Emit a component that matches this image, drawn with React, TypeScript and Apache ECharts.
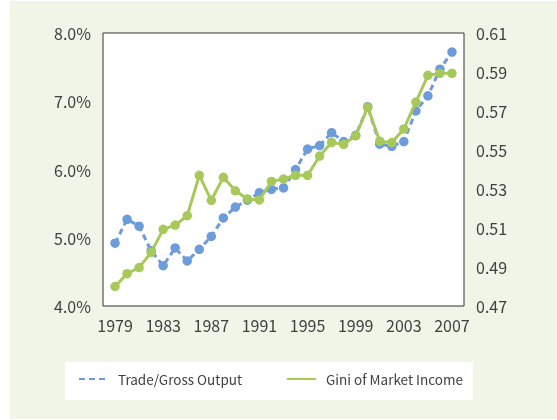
import React, { useEffect, useRef } from "react";
import * as echarts from "echarts";

const years = [
  1979, 1980, 1981, 1982, 1983, 1984, 1985, 1986, 1987, 1988, 1989, 1990, 1991, 1992, 1993,
  1994, 1995, 1996, 1997, 1998, 1999, 2000, 2001, 2002, 2003, 2004, 2005, 2006, 2007,
];
const tradeShare = [
  4.92, 5.27, 5.17, 4.81, 4.59, 4.85, 4.66, 4.83, 5.02, 5.29, 5.45, 5.55, 5.66, 5.71, 5.73,
  6.0, 6.3, 6.35, 6.54, 6.41, 6.5, 6.92, 6.37, 6.34, 6.41, 6.86, 7.08, 7.47, 7.72,
];
const gini = [
  0.48, 0.4866, 0.4897, 0.4975, 0.5093, 0.5115, 0.5163, 0.537, 0.5242, 0.536, 0.5291, 0.5249,
  0.5244, 0.5339, 0.5351, 0.537, 0.537, 0.5469, 0.5539, 0.5529, 0.5573, 0.5719, 0.5545, 0.5538,
  0.5608, 0.5746, 0.5883, 0.5893, 0.5893,
];
const xLabels = [1979, 1983, 1987, 1991, 1995, 1999, 2003, 2007];
const rightLabels = [0.47, 0.49, 0.51, 0.53, 0.55, 0.57, 0.59, 0.61];
const seriesNames = ["Trade/Gross Output", "Gini of Market Income"];

const FONT = "'Noto Sans CJK KR', 'Noto Sans', sans-serif";
const TEXT = "#404040";
const BLUE = "#6c9cd9";
const GREEN = "#a7c95a";

export default function App() {
  const ref = useRef<HTMLDivElement>(null);
  useEffect(() => {
    if (!ref.current) return;
    const chart = echarts.init(ref.current, undefined, { renderer: "svg" });
    chart.setOption({
      animation: false,
      textStyle: { fontFamily: FONT },
      graphic: [
        {
          type: "rect",
          z: -10,
          silent: true,
          shape: { x: 10, y: 1, width: 547, height: 418 },
          style: { fill: "#f1f5e8" },
        },
        {
          type: "rect",
          z: -9,
          silent: true,
          shape: { x: 65, y: 362, width: 408, height: 38 },
          style: { fill: "#ffffff" },
        },
      ],
      grid: {
        left: 103,
        right: 93,
        top: 33,
        bottom: 114,
        show: true,
        backgroundColor: "#ffffff",
        borderColor: "#333333",
        borderWidth: 1,
        containLabel: false,
      },
      legend: {
        left: 78,
        top: 371,
        itemWidth: 29,
        itemHeight: 20,
        itemGap: 44,
        padding: 0,
        textStyle: { fontFamily: FONT, fontSize: 13.5, color: TEXT, padding: [0, 0, 0, 5] },
        itemStyle: { opacity: 0 },
        data: seriesNames,
      },
      xAxis: {
        type: "value",
        min: 1978,
        max: 2008,
        axisLine: { show: false },
        axisTick: { show: false },
        splitLine: { show: false },
        axisLabel: {
          customValues: xLabels,
          color: TEXT,
          fontSize: 16,
          fontFamily: FONT,
          margin: 11,
          formatter: (v: number) => String(v),
        },
      },
      yAxis: [
        {
          type: "value",
          min: 4,
          max: 8,
          interval: 1,
          axisLine: { show: false },
          axisTick: { show: false },
          splitLine: { show: false },
          axisLabel: {
            color: TEXT,
            fontSize: 16,
            fontFamily: FONT,
            margin: 12,
            formatter: (v: number) => v.toFixed(1) + "%",
          },
        },
        {
          type: "value",
          min: 0.47,
          max: 0.61,
          position: "right",
          axisLine: { show: false },
          axisTick: { show: false },
          splitLine: { show: false },
          axisLabel: {
            customValues: rightLabels,
            color: TEXT,
            fontSize: 16,
            fontFamily: FONT,
            margin: 12,
            formatter: (v: number) => v.toFixed(2),
          },
        },
      ],
      series: [
        {
          name: seriesNames[0],
          type: "line",
          yAxisIndex: 0,
          data: years.map((y, i) => [y, tradeShare[i]]),
          symbol: "circle",
          symbolSize: 9.5,
          itemStyle: { color: BLUE },
          lineStyle: { color: BLUE, width: 3, type: [6, 4] },
          z: 2,
        },
        {
          name: seriesNames[1],
          type: "line",
          yAxisIndex: 1,
          data: years.map((y, i) => [y, gini[i]]),
          symbol: "circle",
          symbolSize: 9.5,
          itemStyle: { color: GREEN },
          lineStyle: { color: GREEN, width: 3 },
          z: 3,
        },
      ],
    });
    return () => chart.dispose();
  }, []);
  return (
    <div
      ref={ref}
      style={{ position: "fixed", left: 0, top: 0, width: 557, height: 420 }}
    />
  );
}
